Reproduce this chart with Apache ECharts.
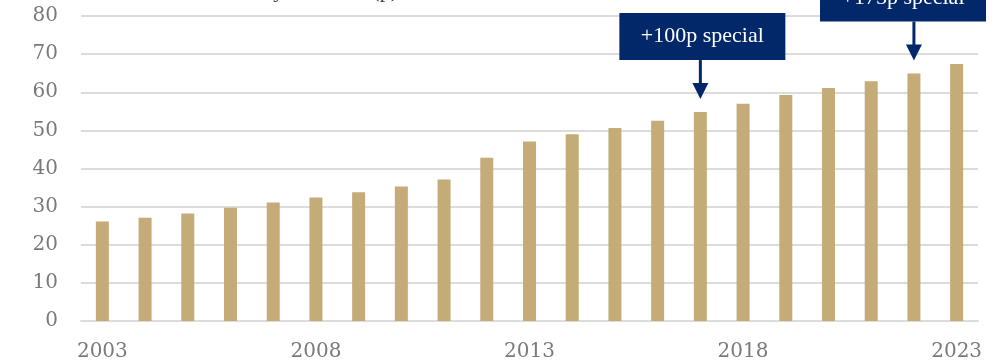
<!DOCTYPE html>
<html>
<head>
<meta charset="utf-8">
<script src="https://cdn.jsdelivr.net/npm/echarts@6/dist/echarts.min.js"></script>
<style>
html,body{margin:0;padding:0;background:#fff;}
#chart{width:1004px;height:360px;}
</style>
</head>
<body>
<div id="chart"></div>
<script>
// ---- data ----
const years = ['2003','2004','2005','2006','2007','2008','2009','2010','2011','2012','2013',
               '2014','2015','2016','2017','2018','2019','2020','2021','2022','2023'];
const dividend = [26.1, 27.1, 28.2, 29.7, 31.1, 32.4, 33.8, 35.3, 37.1, 42.8, 47.1,
                  49.0, 50.6, 52.5, 54.8, 57.0, 59.3, 61.1, 62.9, 64.9, 67.4];
const annoYears = ['2017', '2022'];
const annoTexts = ['+100p special', '+175p special'];
const titleText = 'Ordinary dividend (p)';

const NAVY = '#03286a';
const chart = echarts.init(document.getElementById('chart'));
chart.setOption({
  animation: false,
  backgroundColor: '#ffffff',
  grid: { left: 81, right: 26, top: 16, bottom: 39, containLabel: false, outerBoundsMode: 'none' },
  xAxis: {
    type: 'category',
    data: years,
    axisTick: { show: false },
    axisLine: { lineStyle: { color: '#dcdcdc', width: 2 } },
    axisLabel: {
      interval: 4, margin: 21,
      fontFamily: 'DejaVu Serif', fontSize: 20, color: '#7a7a7a'
    }
  },
  yAxis: {
    type: 'value', min: 0, max: 80, interval: 10,
    axisLine: { show: false }, axisTick: { show: false },
    splitLine: { lineStyle: { color: '#dcdcdc', width: 2 } },
    axisLabel: { margin: 23, fontFamily: 'DejaVu Serif', fontSize: 20, color: '#7a7a7a' }
  },
  series: [{
    type: 'bar',
    data: dividend,
    barWidth: 13,
    itemStyle: { color: '#c4ab77' }
  }]
});

// annotations positioned through the chart's own scales
const W = chart.getWidth();
const els = [];
annoYears.forEach((yr, i) => {
  const idx = years.indexOf(yr);
  const p = chart.convertToPixel({ seriesIndex: 0 }, [idx, dividend[idx]]);
  const tipY = p[1] - 13;
  const boxBottom = tipY - 39;
  const boxH = 47, boxW = 166;
  let boxX = p[0] + 2 - boxW / 2;
  if (boxX + boxW > W - 18) boxX = W - 18 - boxW;
  els.push({
    type: 'rect', shape: { x: boxX, y: boxBottom - boxH, width: boxW, height: boxH },
    style: { fill: NAVY }, z: 10
  });
  els.push({
    type: 'text', x: boxX + boxW / 2, y: boxBottom - boxH / 2,
    style: { text: annoTexts[i], fill: '#ffffff', fontFamily: 'Liberation Serif', fontSize: 22,
             align: 'center', verticalAlign: 'middle' }, z: 11
  });
  els.push({
    type: 'line', shape: { x1: p[0], y1: boxBottom, x2: p[0], y2: tipY - 12 },
    style: { stroke: NAVY, lineWidth: 3 }, z: 10
  });
  els.push({
    type: 'polygon', shape: { points: [[p[0] - 8, tipY - 16], [p[0] + 8, tipY - 16], [p[0], tipY]] },
    style: { fill: NAVY }, z: 10
  });
});
els.push({
  type: 'text', x: 398, y: 2,
  style: { text: titleText, fill: '#404040', fontFamily: 'Liberation Serif', fontSize: 22,
           align: 'right', verticalAlign: 'bottom' }
});
chart.setOption({ graphic: { elements: els } });
</script>
</body>
</html>
